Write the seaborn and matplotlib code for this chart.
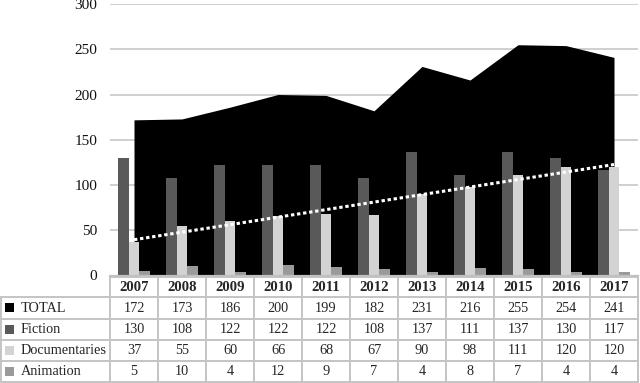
import seaborn as sns
import matplotlib.pyplot as plt
import matplotlib.patches as mpatches
import pandas as pd
import numpy as np

years = ['2007', '2008', '2009', '2010', '2011', '2012',
         '2013', '2014', '2015', '2016', '2017']
total = [172, 173, 186, 200, 199, 182, 231, 216, 255, 254, 241]
fiction = [130, 108, 122, 122, 122, 108, 137, 111, 137, 130, 117]
documentaries = [37, 55, 60, 66, 68, 67, 90, 98, 111, 120, 120]
animation = [5, 10, 4, 12, 9, 7, 4, 8, 7, 4, 4]

row_names = ['TOTAL', 'Fiction', 'Documentaries', 'Animation']
row_values = [total, fiction, documentaries, animation]
colors = {'TOTAL': '#000000', 'Fiction': '#595959',
          'Documentaries': '#d3d3d3', 'Animation': '#9a9a9a'}

bars_df = pd.DataFrame({
    'year': years * 3,
    'series': ['Fiction'] * 11 + ['Documentaries'] * 11 + ['Animation'] * 11,
    'value': fiction + documentaries + animation,
})

sns.set_style('white')
plt.rcParams['font.family'] = ['Liberation Serif', 'DejaVu Serif']

W, H = 640, 383
fig = plt.figure(figsize=(W / 100, H / 100), dpi=100)

# layout in pixels
left, col_w = 110, 48
y0_px, y300_px = 275.5, 4
ax = fig.add_axes([left / W, (H - y0_px) / H, col_w * 11 / W, (y0_px - y300_px) / H])

# TOTAL as a black area behind the bars
xpos = np.arange(len(years))
ax.fill_between(xpos, total, color=colors['TOTAL'], linewidth=0, zorder=0.8)

sns.barplot(data=bars_df, x='year', y='value', hue='series', order=years,
            hue_order=['Fiction', 'Documentaries', 'Animation'],
            palette=colors, width=0.65, linewidth=0, saturation=1,
            legend=False, ax=ax, zorder=2)

# linear trend of documentaries, white dotted
k, b = np.polyfit(xpos, documentaries, 1)
ax.plot(xpos, k * xpos + b, color='white', lw=2.2,
        linestyle=(0, (1.1, 0.9)), zorder=3)

ax.set_xlim(-0.5, len(years) - 0.5)
ax.set_ylim(0, 300)
ax.set_yticks(range(0, 301, 50))
ax.set_axisbelow(True)
ax.yaxis.grid(True, color='#cccccc', lw=1.3)
ax.tick_params(axis='y', length=0, pad=9, labelsize=11, labelcolor='#111111')
ax.tick_params(axis='x', length=0, labelbottom=False)
ax.set_xlabel('')
ax.set_ylabel('')
for s in ['top', 'right', 'left']:
    ax.spines[s].set_visible(False)
ax.spines['bottom'].set_color('#bfbfbf')
ax.spines['bottom'].set_linewidth(1.6)

# data table drawn in pixel space
tab = fig.add_axes([0, 0, 1, 1])
tab.set_xlim(0, W)
tab.set_ylim(H, 0)
tab.axis('off')
tab.patch.set_alpha(0)

line_c = '#c4c4c4'
lw = 1.4
row_edges = [277, 297, 318.5, 339.5, 360.5, 382]
right = left + col_w * 11

# header row borders (data columns only)
tab.plot([left, right], [row_edges[0]] * 2, color=line_c, lw=lw)
for r in row_edges[1:]:
    tab.plot([0.7, right], [r, r], color=line_c, lw=lw)
for i in range(12):
    xe = left + col_w * i
    tab.plot([xe, xe], [row_edges[0], row_edges[-1]], color=line_c, lw=lw)
tab.plot([0.7, 0.7], [row_edges[1], row_edges[-1]], color=line_c, lw=lw)

for i, yr in enumerate(years):
    tab.text(left + col_w * (i + 0.5), (row_edges[0] + row_edges[1]) / 2 + 0.5, yr,
             ha='center', va='center', fontsize=10.6, fontweight='bold')

for j, (name, vals) in enumerate(zip(row_names, row_values)):
    yc = (row_edges[j + 1] + row_edges[j + 2]) / 2
    tab.add_patch(mpatches.Rectangle((5, yc - 4.5), 9, 9, color=colors[name], lw=0))
    tab.text(20.5, yc + 0.5, name, ha='left', va='center', fontsize=10.3)
    for i, v in enumerate(vals):
        tab.text(left + col_w * (i + 0.5), yc + 0.5, str(v),
                 ha='center', va='center', fontsize=10.3)

fig.savefig('out.png', dpi=100)
